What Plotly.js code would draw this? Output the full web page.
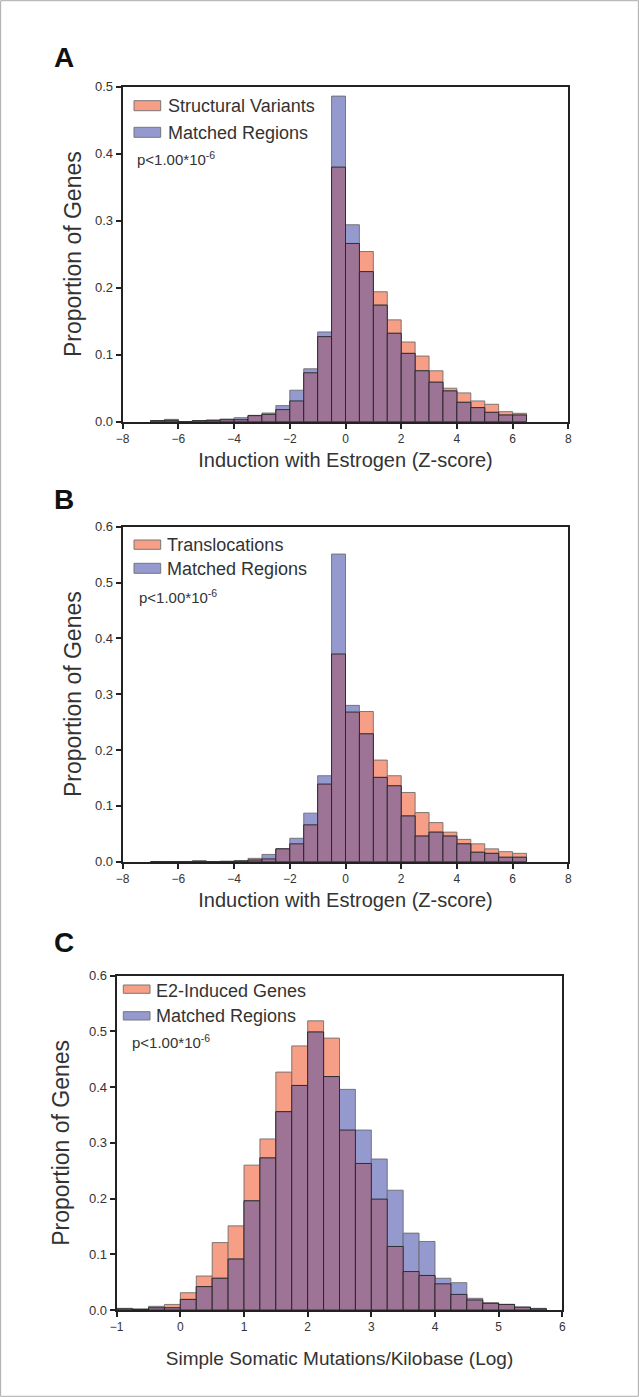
<!DOCTYPE html>
<html><head><meta charset="utf-8">
<script src="https://cdn.plot.ly/plotly-3.0.1.min.js"></script>
<style>html,body{margin:0;padding:0;background:#fff}#chart{width:639px;height:1397px}</style>
</head><body><div id="chart"></div>
<script>
// ---------- DATA ----------
const zBins = [-6.75,-6.25,-5.75,-5.25,-4.75,-4.25,-3.75,-3.25,-2.75,-2.25,-1.75,-1.25,-0.75,-0.25,0.25,0.75,1.25,1.75,2.25,2.75,3.25,3.75,4.25,4.75,5.25,5.75,6.25];
const structuralVariants = [0.0015,0.002,0,0.0015,0.002,0.003,0.003,0.009,0.011,0.018,0.031,0.073,0.127,0.380,0.266,0.254,0.194,0.152,0.119,0.098,0.076,0.050,0.043,0.031,0.026,0.015,0.0125];
const matchedA = [0.0015,0.0035,0,0.0015,0.0025,0.004,0.006,0.0095,0.013,0.024,0.047,0.079,0.134,0.486,0.294,0.224,0.174,0.132,0.102,0.076,0.059,0.046,0.029,0.021,0.014,0.010,0.010];
const translocations = [0,0,0,0,0,0.001,0.002,0.006,0.005,0.023,0.032,0.066,0.139,0.372,0.268,0.269,0.182,0.154,0.124,0.088,0.070,0.053,0.040,0.032,0.023,0.018,0.015];
const matchedB = [0,0,0,0.002,0,0,0.001,0.003,0.013,0.023,0.042,0.087,0.154,0.551,0.280,0.229,0.151,0.136,0.082,0.046,0.053,0.046,0.032,0.017,0.015,0.008,0.008];
const logBins = [-0.875,-0.625,-0.375,-0.125,0.125,0.375,0.625,0.875,1.125,1.375,1.625,1.875,2.125,2.375,2.625,2.875,3.125,3.375,3.625,3.875,4.125,4.375,4.625,4.875,5.125,5.375,5.625];
const e2Induced = [0.002,0.001,0.004,0.010,0.031,0.061,0.121,0.151,0.260,0.307,0.427,0.474,0.519,0.488,0.323,0.263,0.199,0.114,0.069,0.062,0.047,0.028,0.018,0.013,0.010,0.005,0.002];
const matchedC = [0.003,0.002,0.0066,0.004,0.019,0.042,0.057,0.0915,0.196,0.273,0.356,0.403,0.499,0.419,0.396,0.323,0.271,0.215,0.138,0.123,0.057,0.049,0.021,0.012,0.010,0.005,0.003];

const seriesNamesA = ['Structural Variants','Matched Regions'];
const seriesNamesB = ['Translocations','Matched Regions'];
const seriesNamesC = ['E2-Induced Genes','Matched Regions'];
const pText = 'p&lt;1.00*10<sup>-6</sup>';
const panelLetters = ['A','B','C'];
const xTitleZ = 'Induction with Estrogen (Z-score)';
const xTitleLog = 'Simple Somatic Mutations/Kilobase (Log)';
const yTitle = 'Proportion of Genes';

// ---------- STYLE ----------
const W = 639, H = 1397;
const ORANGE = 'rgb(246,158,134)';
const BLUE = 'rgb(148,153,206)';
const OVERLAP = 'rgb(158,116,150)';
const FONT = 'Arial, "Liberation Sans", Helvetica, sans-serif';
const TXT = '#333';
const px = x => x / W;
const py = y => 1 - y / H;

function traces(x, a, b, xa, ya, names) {
  const both = a.map((v, i) => Math.min(v, b[i]));
  const common = {type: 'bar', x: x, xaxis: xa, yaxis: ya, showlegend: false, hoverinfo: 'x+y'};
  return [
    Object.assign({}, common, {y: a, name: names[0], marker: {color: ORANGE, line: {color: 'rgba(105,105,105,0.85)', width: 1}}}),
    Object.assign({}, common, {y: b, name: names[1], marker: {color: BLUE, line: {color: 'rgba(105,105,105,0.85)', width: 1}}}),
    Object.assign({}, common, {y: both, name: 'overlap', marker: {color: OVERLAP, line: {color: 'rgba(30,30,30,0.85)', width: 1}}})
  ];
}

const data = [].concat(
  traces(zBins, structuralVariants, matchedA, 'x', 'y', seriesNamesA),
  traces(zBins, translocations, matchedB, 'x2', 'y2', seriesNamesB),
  traces(logBins, e2Induced, matchedC, 'x3', 'y3', seriesNamesC)
);

function xAxis(dom, range, dtick, anchor, title, tsize, standoff) {
  return {domain: [px(dom[0]), px(dom[1])], range: range, dtick: dtick, tick0: 0, anchor: anchor,
    showline: true, mirror: true, linecolor: '#222', linewidth: 2, ticks: 'outside', ticklen: 5, tickwidth: 2, tickcolor: '#222',
    showgrid: false, zeroline: false, automargin: false, tickfont: {family: FONT, size: 12, color: TXT},
    title: {text: title, font: {family: FONT, size: tsize, color: TXT}, standoff: standoff}};
}
function yAxis(dom, range, anchor, standoff) {
  return {domain: [py(dom[1]), py(dom[0])], range: range, dtick: 0.1, tick0: 0, tickformat: '.1f', anchor: anchor,
    showline: true, mirror: true, linecolor: '#222', linewidth: 2, ticks: 'outside', ticklen: 5, tickwidth: 2, tickcolor: '#222',
    showgrid: false, zeroline: false, automargin: false, tickfont: {family: FONT, size: 13, color: TXT},
    title: {text: yTitle, font: {family: FONT, size: 23, color: TXT}, standoff: standoff}};
}

const annotations = [];
const shapes = [];
function legendBlock(names, sw, t1y, t2y, s1, s2, tx, pX, pY) {
  shapes.push({type: 'rect', xref: 'paper', yref: 'paper', x0: px(sw[0]), x1: px(sw[1]), y0: py(s1[1]), y1: py(s1[0]), fillcolor: ORANGE, line: {color: '#777', width: 1}});
  shapes.push({type: 'rect', xref: 'paper', yref: 'paper', x0: px(sw[0]), x1: px(sw[1]), y0: py(s2[1]), y1: py(s2[0]), fillcolor: BLUE, line: {color: '#777', width: 1}});
  annotations.push({xref: 'paper', yref: 'paper', x: px(tx), y: py(t1y), xanchor: 'left', yanchor: 'middle', showarrow: false, text: names[0], font: {family: FONT, size: 18, color: TXT}});
  annotations.push({xref: 'paper', yref: 'paper', x: px(tx), y: py(t2y), xanchor: 'left', yanchor: 'middle', showarrow: false, text: names[1], font: {family: FONT, size: 18, color: TXT}});
  annotations.push({xref: 'paper', yref: 'paper', x: px(pX), y: py(pY), xanchor: 'left', yanchor: 'middle', showarrow: false, text: pText, font: {family: FONT, size: 15, color: TXT}});
}
legendBlock(seriesNamesA, [134, 160.7], 106, 133, [100.7, 110.7], [127.3, 137.3], 166, 135, 159);
legendBlock(seriesNamesB, [134, 160.7], 545, 569, [540, 549.3], [563.3, 573.3], 165, 137, 597);
legendBlock(seriesNamesC, [123.3, 150], 991, 1016, [985, 993.3], [1011.7, 1020], 154, 130, 1041);

const letterY = [58, 500, 942];
panelLetters.forEach((L, i) => annotations.push({xref: 'paper', yref: 'paper', x: px(52), y: py(letterY[i]), xanchor: 'left', yanchor: 'middle', showarrow: false, text: '<b>' + L + '</b>', font: {family: FONT, size: 28, color: '#111'}}));

shapes.push({type: 'rect', xref: 'paper', yref: 'paper', x0: 0.001, x1: 0.999, y0: 0.0005, y1: 0.9995, line: {color: '#aaa', width: 1}});

const layout = {
  width: W, height: H, margin: {l: 0, r: 0, t: 0, b: 0},
  paper_bgcolor: '#fff', plot_bgcolor: '#fff',
  barmode: 'overlay', bargap: 0, showlegend: false,
  xaxis: xAxis([122.7, 568.3], [-8, 8], 2, 'y', xTitleZ, 20, 8),
  yaxis: yAxis([86.7, 421.7], [0, 0.5], 'x', 7),
  xaxis2: xAxis([122.7, 568.3], [-8, 8], 2, 'y2', xTitleZ, 20, 8),
  yaxis2: yAxis([526.7, 861.7], [0, 0.6], 'x2', 7),
  xaxis3: xAxis([116.7, 562.3], [-1, 6], 1, 'y3', xTitleLog, 19, 18),
  yaxis3: yAxis([975.7, 1310], [0, 0.6], 'x3', 13),
  annotations: annotations, shapes: shapes
};

Plotly.newPlot('chart', data, layout, {displayModeBar: false, staticPlot: true});
</script></body></html>
